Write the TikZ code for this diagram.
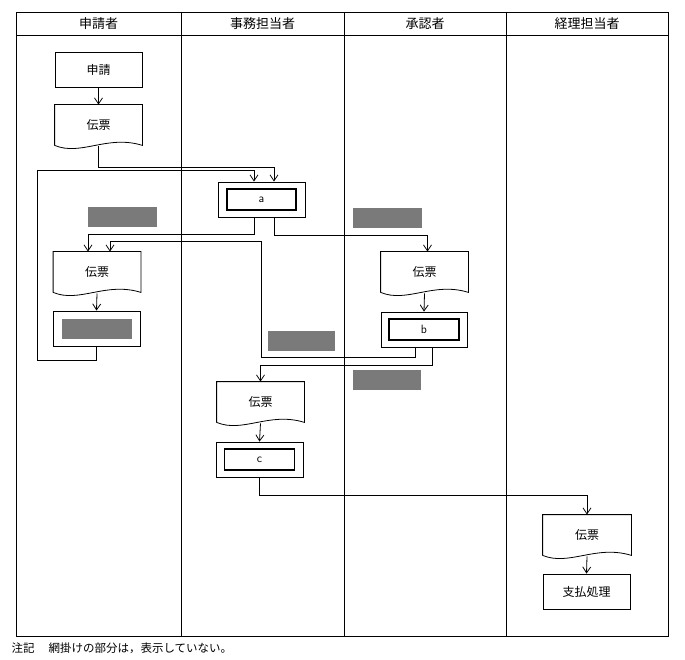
\documentclass[tikz,border=0pt]{standalone}
\usepackage{fontspec}
\setmainfont{Noto Sans CJK JP}
\usetikzlibrary{arrows.meta,calc}
\newcommand\docshape[1]{\draw ($(#1.south west)+(0,5)$) -- (#1.north west) -- (#1.north east) -- ($(#1.south east)+(0,5)$) .. controls ($(#1.south west)!0.6!(#1.south east)+(0,16)$) and ($(#1.south west)!0.3!(#1.south east)+(0,-6)$) .. ($(#1.south west)+(0,5)$);}
\begin{document}
\begin{tikzpicture}[x=1pt,y=1pt,line width=0.8pt,
  box/.style={draw,minimum width=87pt,minimum height=35pt,inner sep=0pt,font=\fontsize{12}{12}\selectfont},
  doc/.style={minimum width=87pt,minimum height=45pt,inner sep=0pt,font=\fontsize{12}{12}\selectfont,text depth=0pt,yshift=0pt},
  inner/.style={draw,line width=1.8pt,minimum width=69pt,minimum height=21pt,inner sep=0pt,font=\fontsize{12}{12}\selectfont\sffamily},
  grey/.style={fill=black!52,draw=none,minimum width=69pt,minimum height=20pt,inner sep=0pt},
  arr/.style={-{Straight Barb[length=6pt,width=8pt]}},
  head/.style={font=\fontsize{13}{13}\selectfont}]
\useasboundingbox (0,0) rectangle (685,-660);
\draw (16,-12) rectangle (668,-636);
\draw (16,-35) -- (668,-35);
\foreach \x in {181,344,506} \draw (\x,-12) -- (\x,-636);
\node[head] (h1) at (98.5,-23.5) {申請者};
\node[head] (h2) at (262.5,-23.5) {事務担当者};
\node[head] (h3) at (425,-23.5) {承認者};
\node[head] (h4) at (587,-23.5) {経理担当者};
% nodes
\node[box] (app) at (98.5,-69.5) {申請};
\node[doc] (d1) at (98.5,-127.5) {\raisebox{6pt}{伝票}}; \docshape{d1}
\node[box] (a) at (261.5,-199.5) {}; \node[inner] (ai) at (a) {a};
\node[doc] (d2) at (97,-274.5) {\raisebox{6pt}{伝票}}; \docshape{d2}
\node[box] (p2) at (96.5,-328.5) {}; \node[grey,minimum width=70pt] (p2i) at (p2) {};
\node[doc] (d3) at (424.5,-274.5) {\raisebox{6pt}{伝票}}; \docshape{d3}
\node[box,minimum width=86pt] (b) at (424,-329.5) {}; \node[inner,minimum width=70pt] (bi) at (b) {b};
\node[doc] (d4) at (260.5,-404.5) {\raisebox{6pt}{伝票}}; \docshape{d4}
\node[box] (c) at (259.5,-459.5) {}; \node[inner,minimum width=70pt] (ci) at (c) {c};
\node[doc,minimum width=88pt] (d5) at (587,-537.5) {\raisebox{6pt}{伝票}}; \docshape{d5}
\node[box] (pay) at (586.5,-591.5) {支払処理};
\node[grey] (g1) at (122.5,-217.5) {};
\node[grey,minimum width=67pt] (g2) at (301.5,-341) {};
\node[grey] (g3) at (387.5,-218) {};
\node[grey,minimum width=68pt] (g4) at (387,-380) {};
% connectors
\draw[arr] (app.south) -- (d1.north);
\draw[arr] ($(d1.south)+(0,4)$) -- ++(0,-21) -| ($(a.north)+(12.5,0)$);
\draw[arr] (p2.south) -- ++(0,-14) -- ++(-59,0) -- ++(0,190) -| ($(a.north)+(-7.5,0)$);
\draw[arr] ($(a.south)+(-7.5,0)$) -- ++(0,-17) -| ($(d2.north)+(-9,0)$);
\draw[arr] ($(a.south)+(12.5,0)$) -- ++(0,-18) -| ($(d3.north)+(3,0)$);
\draw[arr] ($(b.south)+(-9,0)$) -- ++(0,-10) -- ++(-154,0) -- ++(0,116) -| ($(d2.north)+(13,0)$);
\draw[arr] ($(b.south)+(8,0)$) -- ++(0,-18) -| (d4.north);
\draw[arr] ($(d2.south)+(0,4)$) -- (p2.north);
\draw[arr] ($(d3.south)+(0,4)$) -- (b.north);
\draw[arr] ($(d4.south)+(0,4)$) -- (c.north);
\draw[arr] ($(d5.south)+(0,4)$) -- (pay.north);
\draw[arr] (c.south) -- ++(0,-18) -| (d5.north);
\node[anchor=west,font=\fontsize{11.5}{12}\selectfont] (note) at (8,-648) {注記\hspace{1.2em}網掛けの部分は，表示していない。};
\end{tikzpicture}
\end{document}
